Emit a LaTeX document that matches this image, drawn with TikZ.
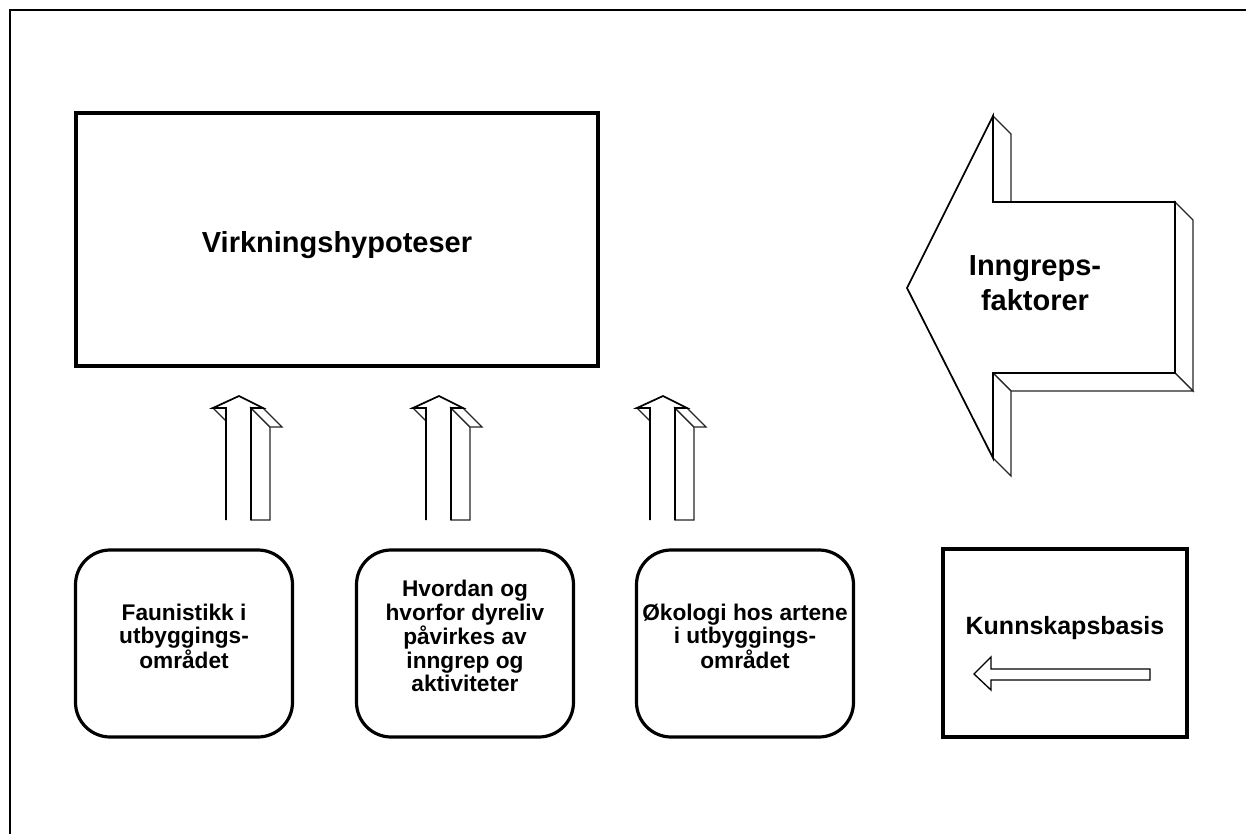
\documentclass[tikz,border=0pt]{standalone}
\usepackage{fontspec}
\setmainfont{Liberation Sans}
\begin{document}
\begin{tikzpicture}[x=0.75pt,y=-0.75pt]
\tikzset{
 frameline/.style={line width=2.2pt},
 mainbox/.style={draw, line width=3.6pt, minimum width=391.5pt, minimum height=189.75pt},
 roundbox/.style={draw, line width=2.4pt, rounded corners=26pt, minimum width=162.75pt, minimum height=140.25pt},
 boxtext/.style={align=center, font=\bfseries\fontsize{17}{17.5}\selectfont},
 kbox/.style={draw, line width=3pt, minimum width=183pt, minimum height=141pt},
 ktext/.style={font=\bfseries\fontsize{18.75}{22}\selectfont},
 arrowline/.style={line width=1.3pt, line join=miter, fill=white},
 depthface/.style={line width=1pt, fill=white, draw=black!85},
 bigtext/.style={font=\bfseries\fontsize{21.75}{26.25}\selectfont, align=center},
}
\useasboundingbox (0,0) rectangle (1246,834);
\fill[white] (0,0) rectangle (1246,834);
% outer frame
\coordinate (fa) at (10,834);
\coordinate (fb) at (10,10);
\coordinate (fc) at (1246,10);
\draw[frameline] (fa) -- (fb) -- (fc);

% main box
\node[mainbox] (vh) at (337,239.5) {};
\node[bigtext] (vht) at (337,245) {Virkningshypoteser};

% big 3D arrow
\draw[depthface] (993,116) -- (1011,134) -- (1011,202) -- (993,202) -- cycle;
\draw[depthface] (1175,202) -- (1193,220) -- (1193,391) -- (1175,373) -- cycle;
\draw[depthface] (993,373) -- (1175,373) -- (1193,391) -- (1011,391) -- cycle;
\draw[depthface] (993,373) -- (1011,391) -- (1011,476) -- (993,458) -- cycle;
\draw[arrowline] (907,288) -- (993,116) -- (993,202) -- (1175,202) -- (1175,373) -- (993,373) -- (993,458) -- cycle;
\node[bigtext] (inn) at (1035,283) {Inngreps-\\faktorer};

% small up arrows
\foreach \L/\n in {226/a1,426/a2,650/a3}{
  \draw[depthface] (\L+25,408) -- (\L+44,427) -- (\L+44,520) -- (\L+25,520) -- cycle;
  \draw[depthface] (\L+25,408) -- (\L+37,408) -- (\L+56,427) -- (\L+44,427) -- cycle;
  \draw[depthface] (\L-13,408) -- (\L,408) -- (\L,421) -- cycle;
  \draw[arrowline, fill=none] (\L,520) -- (\L,408) -- (\L-13,408) -- (\L+13,396) -- (\L+37,408) -- (\L+25,408) -- (\L+25,520);
}

% bottom boxes
\node[roundbox] (b1) at (184,643.5) {};
\node[roundbox] (b2) at (465,643.5) {};
\node[roundbox] (b3) at (745,643.5) {};
\node[boxtext] (t1) at (184,636) {Faunistikk i\\utbyggings-\\området};
\node[boxtext] (t2) at (465,636) {Hvordan og\\hvorfor dyreliv\\påvirkes av\\inngrep og\\aktiviteter};
\node[boxtext] (t3) at (745,636) {Økologi hos artene\\i utbyggings-\\området};

% knowledge base box
\node[kbox] (kb) at (1065,643) {};
\node[ktext] (kbt) at (1065,628) {Kunnskapsbasis};
\draw[arrowline, line width=1pt] (974,674) -- (991,657) -- (991,669) -- (1150,669) -- (1150,680) -- (991,680) -- (991,690) -- cycle;
\end{tikzpicture}
\end{document}
